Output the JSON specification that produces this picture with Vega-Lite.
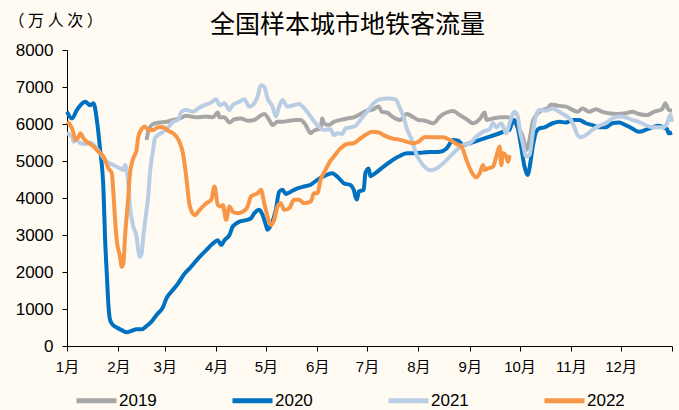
{
 "$schema": "https://vega.github.io/schema/vega-lite/v6.json",
 "width": 605, "height": 296,
 "autosize": {"type": "none"},
 "padding": {"left": 67, "top": 50, "right": 7, "bottom": 64},
 "background": "#FFFBF2",
 "config": {"view": {"stroke": null}, "font": "Liberation Sans"},
 "title": {"text": "全国样本城市地铁客流量", "font": "Noto Sans CJK SC", "fontSize": 25, "fontWeight": "normal", "color": "#000000", "anchor": "middle", "dx": -22, "dy": 38, "offset": 12},
 "datasets": {
  "s2019": [[48,5570],[49,5790],[52,6000],[56,6040],[60,6060],[64,6110],[68,6150],[72,6220],[78,6180],[84,6200],[88,6180],[91,6310],[92,6180],[95,6180],[98,6040],[101,6130],[105,6150],[109,6090],[113,6110],[116,6200],[119,6270],[122,6110],[124,5970],[127,6060],[130,6060],[134,6090],[138,6110],[141,6110],[144,5970],[147,5750],[148,5790],[150,5840],[153,5880],[154,6150],[155,6020],[158,5970],[161,6060],[165,6110],[169,6150],[173,6180],[177,6270],[181,6360],[184,6380],[188,6470],[190,6330],[193,6310],[197,6180],[201,6110],[205,6270],[209,6180],[212,6110],[216,6090],[221,6020],[225,6200],[229,6310],[233,6350],[237,6240],[241,6130],[245,6020],[249,6130],[252,6310],[253,6110],[257,6150],[262,6180],[266,6180],[269,6110],[271,5970],[273,5840],[275,5660],[277,5300],[279,5570],[281,6060],[283,6240],[287,6380],[290,6420],[292,6530],[297,6490],[301,6470],[305,6380],[308,6330],[311,6420],[315,6330],[319,6400],[323,6330],[327,6290],[332,6270],[337,6290],[341,6330],[345,6270],[350,6240],[354,6330],[359,6400],[361,6560],[363,6380],[365,6360]],
  "s2020": [[0,6330],[3,6150],[6,6380],[11,6600],[14,6510],[16,6560],[18,6110],[20,5300],[22,4220],[23,2860],[24,1960],[25,1100],[26,700],[27,610],[30,500],[33,430],[36,370],[39,410],[42,450],[45,450],[48,540],[51,660],[54,840],[58,1060],[60,1290],[63,1470],[67,1690],[71,1960],[74,2100],[80,2410],[84,2590],[88,2770],[91,2860],[93,2730],[95,2860],[98,3000],[100,3230],[104,3360],[108,3400],[111,3450],[113,3590],[116,3680],[118,3540],[120,3270],[121,3140],[123,3270],[126,3680],[128,4170],[130,4220],[132,4110],[135,4170],[139,4260],[143,4310],[147,4360],[151,4490],[155,4590],[160,4670],[163,4580],[167,4400],[171,4350],[173,4220],[174,4040],[175,3960],[176,4170],[179,4220],[180,4670],[182,4800],[183,4590],[186,4670],[191,4850],[195,4980],[200,5120],[205,5210],[210,5210],[215,5230],[219,5240],[225,5250],[229,5340],[233,5570],[236,5550],[239,5430],[243,5480],[249,5570],[255,5660],[261,5750],[265,5820],[267,5840],[268,5970],[270,6110],[272,5880],[274,5390],[276,4850],[278,4620],[279,4800],[281,5390],[283,5790],[285,5880],[288,5910],[293,6020],[297,6060],[301,6040],[305,6110],[309,6110],[313,6020],[317,5970],[321,5910],[325,5910],[329,6020],[333,6040],[337,5970],[341,5880],[345,5790],[349,5840],[353,5910],[357,5950],[360,5910],[362,5860],[363,5750],[365,5770]],
  "s2021": [[0,5750],[3,5660],[4,5520],[6,5570],[8,5480],[11,5460],[14,5500],[17,5390],[20,5210],[24,4980],[28,4890],[32,4800],[34,4760],[35,4890],[36,4760],[37,4400],[38,3770],[40,3230],[42,2950],[43,2590],[44,2410],[45,2500],[46,2950],[48,3680],[49,4040],[50,4670],[52,5300],[53,5610],[55,5700],[58,5790],[61,5910],[64,6060],[67,6110],[69,6330],[72,6380],[76,6330],[79,6420],[83,6510],[87,6580],[90,6670],[92,6510],[95,6560],[98,6380],[100,6510],[104,6600],[107,6670],[110,6470],[113,6560],[115,6740],[117,7050],[119,7010],[121,6690],[124,6470],[126,6200],[128,6470],[130,6650],[133,6470],[137,6510],[140,6540],[142,6470],[144,6380],[147,6200],[151,5970],[155,5840],[159,5860],[161,5700],[163,5750],[166,5730],[168,5880],[171,5910],[174,5950],[177,6110],[181,6330],[185,6560],[189,6670],[194,6690],[198,6670],[201,6420],[203,6200],[205,5880],[208,5570],[211,5160],[213,5000],[216,4830],[219,4750],[223,4800],[227,4940],[231,5120],[235,5300],[239,5430],[243,5480],[247,5660],[251,5790],[255,5860],[257,6020],[259,5910],[262,6020],[265,5750],[267,6020],[270,6330],[272,6200],[273,5880],[275,5480],[277,5120],[279,5160],[281,5750],[283,6240],[285,6380],[289,6360],[293,6420],[297,6330],[301,6220],[304,6110],[306,5930],[308,5700],[310,5640],[313,5700],[317,5840],[321,5950],[325,6020],[329,6150],[333,6200],[337,6180],[341,6110],[345,6060],[349,5970],[353,5910],[357,5910],[360,5910],[362,6020],[364,6240],[365,6060]],
  "s2022": [[0,6060],[2,5970],[4,5750],[5,5570],[7,5660],[8,5750],[10,5610],[12,5520],[16,5390],[19,5250],[22,5120],[25,4800],[27,4670],[28,4130],[29,3410],[30,2860],[32,2410],[33,2140],[34,2230],[35,2950],[37,4040],[38,4670],[40,5070],[42,5300],[43,5660],[45,5860],[47,5930],[49,5840],[52,5840],[55,5910],[58,5910],[61,5820],[64,5750],[66,5660],[68,5500],[70,5200],[72,4550],[74,3800],[77,3540],[80,3680],[84,3860],[87,3950],[89,4310],[91,3810],[93,3770],[94,3810],[96,3410],[98,3770],[100,3630],[103,3590],[106,3630],[109,3770],[111,4040],[115,4130],[117,4220],[119,3860],[121,3500],[123,3270],[125,3410],[127,3770],[129,3860],[131,3680],[134,3720],[137,3950],[140,3950],[143,3860],[147,3900],[149,4130],[151,4130],[153,4490],[156,4760],[158,4940],[161,5120],[165,5340],[169,5460],[173,5480],[177,5610],[181,5730],[184,5790],[188,5770],[192,5680],[196,5610],[201,5570],[205,5520],[209,5480],[212,5520],[216,5650],[219,5640],[223,5640],[227,5640],[231,5570],[235,5460],[238,5390],[241,5030],[244,4710],[247,4560],[249,4670],[251,4890],[252,4760],[254,4800],[257,4850],[259,5120],[261,5390],[262,4890],[263,5210],[265,5120],[266,4980],[267,5160]]
 },
 "layer": [
  {"data": {"name": "s2019"}, "transform": [{"calculate": "'2019'", "as": "year"}, {"calculate": "datum[0]", "as": "day"}, {"calculate": "datum[1]", "as": "v"}], "mark": {"type": "line", "strokeWidth": 4, "interpolate": "monotone"}, "encoding": {"x": {"field": "day", "type": "quantitative"}, "y": {"field": "v", "type": "quantitative"}, "color": {"field": "year", "type": "nominal"}}},
  {"data": {"name": "s2020"}, "transform": [{"calculate": "'2020'", "as": "year"}, {"calculate": "datum[0]", "as": "day"}, {"calculate": "datum[1]", "as": "v"}], "mark": {"type": "line", "strokeWidth": 4, "interpolate": "monotone"}, "encoding": {"x": {"field": "day", "type": "quantitative"}, "y": {"field": "v", "type": "quantitative"}, "color": {"field": "year", "type": "nominal"}}},
  {"data": {"name": "s2021"}, "transform": [{"calculate": "'2021'", "as": "year"}, {"calculate": "datum[0]", "as": "day"}, {"calculate": "datum[1]", "as": "v"}], "mark": {"type": "line", "strokeWidth": 4, "interpolate": "monotone"}, "encoding": {"x": {"field": "day", "type": "quantitative"}, "y": {"field": "v", "type": "quantitative"}, "color": {"field": "year", "type": "nominal"}}},
  {"data": {"name": "s2022"}, "transform": [{"calculate": "'2022'", "as": "year"}, {"calculate": "datum[0]", "as": "day"}, {"calculate": "datum[1]", "as": "v"}], "mark": {"type": "line", "strokeWidth": 4, "interpolate": "monotone"}, "encoding": {"x": {"field": "day", "type": "quantitative"}, "y": {"field": "v", "type": "quantitative"}, "color": {"field": "year", "type": "nominal"}}}
 ],
 "resolve": {"scale": {"color": "shared"}},
 "encoding": {
  "x": {"field": "day", "type": "quantitative", "scale": {"domain": [0, 365], "nice": false, "zero": false},
   "axis": {"values": [0,31,59,90,120,151,181,212,243,273,304,334,365], "labelExpr": "datum.value >= 365 ? '' : (indexof([0,31,59,90,120,151,181,212,243,273,304,334], datum.value) + 1) + '月'", "title": null, "grid": false, "domainColor": "#000000", "tickColor": "#000000", "tickSize": 5, "labelFont": "Liberation Sans, Noto Sans CJK SC", "labelFontSize": 15, "labelColor": "#000000", "labelPadding": 8, "labelFlush": false, "labelOverlap": false}},
  "y": {"field": "v", "type": "quantitative", "scale": {"domain": [0, 8000], "nice": false},
   "axis": {"values": [0,1000,2000,3000,4000,5000,6000,7000,8000], "format": "d", "grid": false, "domainColor": "#000000", "tickColor": "#000000", "tickSize": 5, "labelFont": "Liberation Sans", "labelFontSize": 17, "labelColor": "#000000", "labelPadding": 9,
    "title": "（ 万 人 次 ）", "titleAngle": 0, "titleX": -59, "titleY": -30, "titleAlign": "left", "titleBaseline": "middle", "titleFont": "Noto Sans CJK SC", "titleFontSize": 16, "titleFontWeight": "normal", "titleColor": "#000000"}},
  "color": {"field": "year", "type": "nominal", "scale": {"domain": ["2019","2020","2021","2022"], "range": ["#A6A6A6","#0070C0","#B9CDE5","#F79646"]},
   "legend": {"orient": "none", "legendX": 7, "legendY": 328, "direction": "horizontal", "title": null, "symbolType": "stroke", "symbolSize": 1600, "symbolStrokeWidth": 5, "labelFont": "Liberation Sans", "labelFontSize": 17, "labelColor": "#000000", "labelOffset": 0, "columnPadding": 65}}
 }
}
